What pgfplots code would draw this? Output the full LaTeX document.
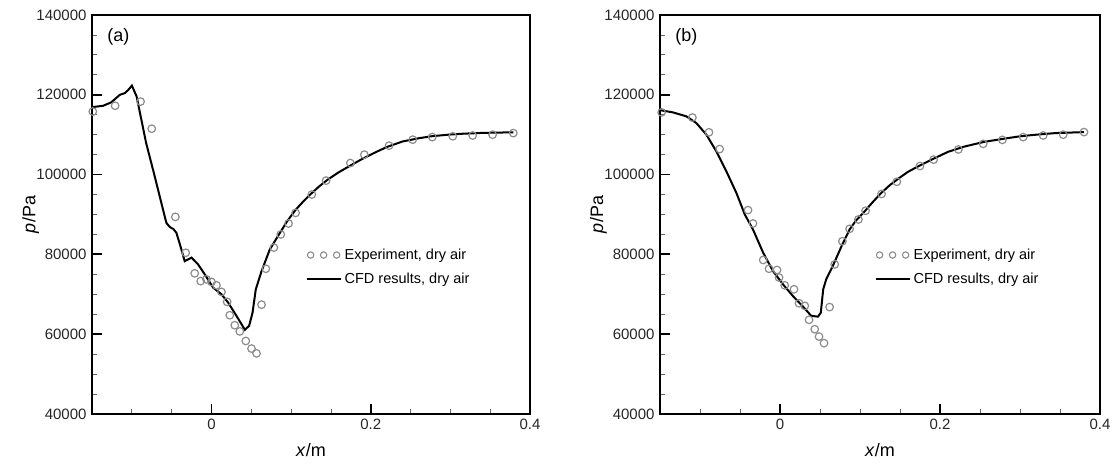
\documentclass[border=0pt]{standalone}
\usepackage{fontspec}
\setmainfont{Liberation Sans}
\usepackage{pgfplots}
\pgfplotsset{compat=1.18}
\definecolor{expgray}{HTML}{8C8C8C}
\newcommand{\tickfont}{\fontsize{15}{18}\selectfont}
\newcommand{\labfont}{\fontsize{18}{21}\selectfont}
\newcommand{\legfont}{\fontsize{14.5}{17}\selectfont}
\pgfplotsset{
  myaxis/.style={
    scale only axis, height=399pt,
    xmin=-0.15, xmax=0.4, ymin=40000, ymax=140000,
    xtick={0,0.2,0.4}, xticklabels={0,0.2,0.4},
    minor xtick={-0.1,-0.05,0.05,0.1,0.15,0.25,0.3,0.35},
    ytick={40000,60000,80000,100000,120000,140000},
    yticklabels={40000,60000,80000,100000,120000,140000},
    minor ytick={45000,50000,55000,65000,70000,75000,85000,90000,95000,105000,110000,115000,125000,130000,135000},
    tick align=inside, xtick pos=bottom, ytick pos=left,
    major tick length=10pt, minor tick length=5pt,
    every major tick/.append style={line width=1.8pt, black},
    every minor tick/.append style={line width=0.8pt, black!60},
    axis line style={line width=1.8pt},
    scaled ticks=false,
    every tick label/.append style={font=\tickfont, text=black!85},
    xticklabel style={yshift=-1pt},
    yticklabel style={xshift=-2pt},
    xlabel={\textit{x}/m}, ylabel={\textit{p}/Pa},
    every axis x label/.append style={font=\labfont, at={(axis description cs:0.5,0)}, anchor=center, yshift=-36pt},
    every axis y label/.append style={font=\labfont, at={(axis description cs:-0.14,0.5)}, anchor=center},
    legend style={draw=none, fill=none, at={(axis cs:0.118,81900)}, anchor=north west,
      font=\legfont, row sep=8pt, inner sep=0pt, nodes={inner xsep=3pt}},
    legend cell align=left,
  },
  expstyle/.style={only marks, mark=o, mark size=3.8pt, expgray, mark options={line width=1.2pt},
    legend image code/.code={\foreach \xx in {4,17,30}{\draw[expgray, line width=1.1pt] (\xx pt,0pt) circle (3.2pt);}}},
  cfdstyle/.style={black, line width=2pt, no marks,
    legend image code/.code={\draw[black, line width=2pt] (0pt,0pt) -- (34pt,0pt);}},
}
\begin{document}
\begin{tikzpicture}[x=1pt,y=1pt]
\useasboundingbox (-92,-51) rectangle (1024,414);
% ---------- (a) ----------
\begin{axis}[myaxis, width=438pt, at={(0pt,0pt)}, anchor=south west]
\addplot[expstyle] coordinates {
(-0.149,115800) (-0.121,117250) (-0.089,118300) (-0.075,111500) (-0.0453,89400)
(-0.0323,80400) (-0.021,75250) (-0.0135,73300) (-0.0063,73750) (0,73100)
(0.0063,72250) (0.0126,70600) (0.0197,68100) (0.023,64750) (0.0293,62250)
(0.0356,60700) (0.0431,58300) (0.0503,56400) (0.0566,55200) (0.0629,67400)
(0.0683,76400) (0.0784,81700) (0.087,85000) (0.0968,87750) (0.1057,90400)
(0.126,95000) (0.144,98500) (0.1744,102900) (0.192,105000) (0.223,107250)
(0.2527,108750) (0.2773,109400) (0.303,109600) (0.328,109800) (0.353,110000)
(0.379,110400)
};
\addlegendentry{Experiment, dry air}
\addplot[cfdstyle] coordinates {
(-0.150,116900) (-0.136,117250) (-0.126,118100) (-0.115,120000) (-0.109,120400)
(-0.105,121100) (-0.0999,122300) (-0.094,119600) (-0.088,113750) (-0.082,107900)
(-0.0734,101250) (-0.064,93750) (-0.0566,87900) (-0.052,86800) (-0.048,86400) (-0.044,85400)
(-0.039,82100) (-0.0336,78300) (-0.025,79200) (-0.0168,77500) (-0.0084,75000)
(0.002,71700) (0.0126,70000) (0.021,67900) (0.0314,64600) (0.042,61100)
(0.0473,62100) (0.0516,65400) (0.0557,71250) (0.0629,75800) (0.0733,81250)
(0.086,85400) (0.095,88300) (0.106,91250) (0.115,93200) (0.124,95000) (0.135,97000)
(0.146,98750) (0.16,100600) (0.173,102100) (0.19,104000) (0.204,105400) (0.22,106900)
(0.240,108300) (0.26,109100) (0.276,109600) (0.30,110050) (0.316,110250) (0.34,110450)
(0.379,110600)
};
\addlegendentry{CFD results, dry air}
\node[font=\labfont] at (axis description cs:0.06,0.945) {(a)};
\end{axis}
% ---------- (b) ----------
\begin{axis}[myaxis, width=440pt, at={(568pt,0pt)}, anchor=south west]
\addplot[expstyle] coordinates {
(-0.148,115600) (-0.1095,114300) (-0.0888,110600) (-0.0754,106400) (-0.040,91100)
(-0.0338,87750) (-0.021,78600) (-0.0137,76400) (-0.0037,76100) (-0.0012,74200)
(0.0059,72250) (0.0175,71250) (0.0238,67750) (0.031,67100) (0.0363,63600)
(0.0434,61250) (0.0488,59400) (0.055,57750) (0.062,66800) (0.0684,77500)
(0.078,83300) (0.087,86400) (0.098,88750) (0.107,90950) (0.127,95150)
(0.146,98200) (0.175,102150) (0.192,103750) (0.223,106300) (0.254,107700)
(0.278,108700) (0.304,109400) (0.329,109800) (0.354,110000) (0.38,110650)
};
\addlegendentry{Experiment, dry air}
\addplot[cfdstyle] coordinates {
(-0.150,116150) (-0.134,115600) (-0.117,114600) (-0.1045,112900) (-0.092,110000)
(-0.0795,105800) (-0.067,100800) (-0.0545,95400) (-0.044,90000) (-0.0338,86250)
(-0.021,80400) (-0.0087,75800) (0.0037,72500) (0.016,69600) (0.0288,66900)
(0.039,64600) (0.0475,64400) (0.051,65400) (0.054,71250) (0.058,73900)
(0.066,77100) (0.077,82100) (0.087,86250) (0.095,88500) (0.1037,90300) (0.115,92900)
(0.126,95300) (0.137,97300) (0.148,99000) (0.16,100700) (0.175,102300) (0.19,103800)
(0.21,105700) (0.23,107000) (0.255,108200) (0.28,109000) (0.30,109600) (0.32,110000)
(0.344,110400) (0.38,110650)
};
\addlegendentry{CFD results, dry air}
\node[font=\labfont] at (axis description cs:0.06,0.945) {(b)};
\end{axis}
\end{tikzpicture}
\end{document}
